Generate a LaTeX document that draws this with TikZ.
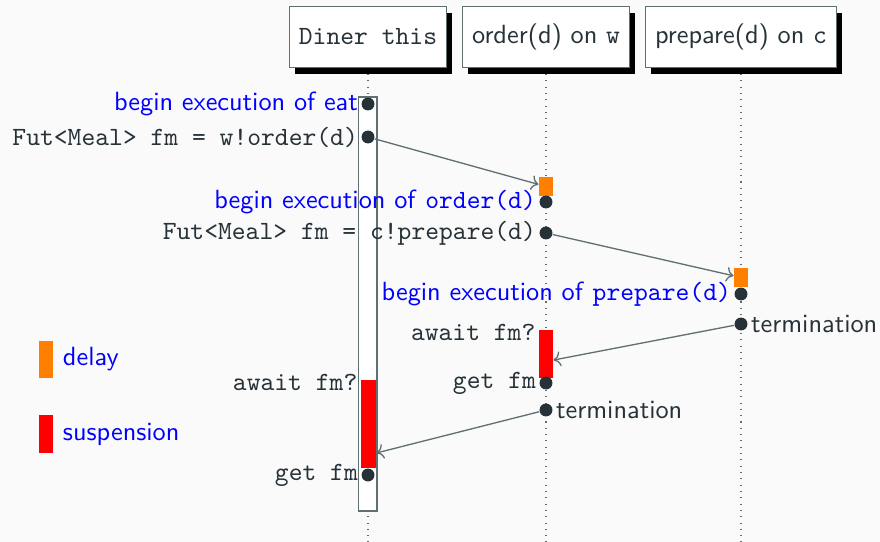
\documentclass[tikz,border=0pt]{standalone}
\usepackage{tikz}
\usetikzlibrary{arrows.meta, shapes, positioning, shadows}
\usepackage{xcolor}
\definecolor{darkslate}{RGB}{38,50,56}
\definecolor{linegray}{RGB}{96,112,112}
\definecolor{paper}{RGB}{250,250,250}
\definecolor{delayorange}{RGB}{255,128,0}
\tikzset{objectbox/.style={rectangle, draw=linegray, fill=white, minimum height=23pt, inner sep=3.6pt, text=darkslate, drop shadow={shadow xshift=2.2pt, shadow yshift=-2.4pt, fill=black, opacity=1}}}
\tikzset{eventdot/.style={circle, fill=darkslate, minimum size=4.9pt, inner sep=0pt}}
\tikzset{delaybox/.style={rectangle, fill=delayorange, minimum width=5.3pt, minimum height=7.2pt, inner sep=0pt},suspensionbox/.style={rectangle, fill=red, minimum width=5.3pt, inner sep=0pt}}
\tikzset{bluelabel/.style={text=blue, inner sep=1pt},codelabel/.style={text=darkslate, font=\ttfamily, inner sep=1pt},plainlabel/.style={text=darkslate, inner sep=1pt}}

\begin{document}
\begin{tikzpicture}[
        x=0.38pt, y=-0.38pt, font=\sffamily,
        lifeline/.style={draw=linegray, dotted},
        activation/.style={rectangle, draw=linegray, fill=white, minimum width=7.2pt, minimum height=157.3pt, inner sep=0pt},
        message/.style={draw=linegray, line width=0.5pt, ->},
    ]
        % Background
        \fill[paper] (0,0) rectangle (880,542);
        \useasboundingbox (0,0) rectangle (880,542);
        % Objects
        \node[objectbox] (diner) at (368,37) {\ttfamily Diner this};
        \node[objectbox] (order) at (546,37) {order(d) on \texttt{w}};
        \node[objectbox] (prepare) at (741,37) {prepare(d) on \texttt{c}};
        % Lifelines
        \coordinate (bottom) at (0,542);
        \foreach \obj in {diner, order, prepare} {
            \draw[lifeline] ([yshift=-2.4pt]\obj.south) -- (\obj.south |- bottom);
        }
        \node[activation] (dinerrun) at (367.5,304) {};
        % Delays and suspensions
        \node[delaybox] (delayO) at (546,186.5) {};
        \node[delaybox] (delayP) at (741,277.5) {};
        \node[suspensionbox, minimum height=18.2pt] (suspO) at (546,354) {};
        \node[suspensionbox, minimum width=5.7pt, minimum height=33.4pt] (suspD) at (368.5,424) {};
        % Events
        \node[eventdot, label={[bluelabel]left:begin execution of eat}] (eatBegin) at (368,104) {};
        \node[eventdot, label={[codelabel]left:{Fut<Meal> fm = w!order(d)}}] (callOrder) at (368,137) {};
        \node[eventdot, label={[bluelabel]left:{begin execution of \texttt{order(d)}}}] (orderBegin) at (546,202) {};
        \node[eventdot, label={[codelabel]left:{Fut<Meal> fm = c!prepare(d)}}] (callPrepare) at (546,233) {};
        \node[eventdot, label={[bluelabel]left:{begin execution of \texttt{prepare(d)}}}] (prepareBegin) at (741,294) {};
        \node[eventdot, label={[plainlabel]right:termination}] (prepareEnd) at (741,324) {};
        \node[eventdot, label={[codelabel]left:get fm}] (getO) at (546,383) {};
        \node[eventdot, label={[plainlabel]right:termination}] (orderEnd) at (546,410) {};
        \node[eventdot, label={[codelabel]left:get fm}] (getD) at (368,475) {};
        \node[codelabel, anchor=east] (awaitO) at ([yshift=-1.1pt]suspO.north west) {await fm?};
        \node[codelabel, anchor=east] (awaitD) at ([yshift=-1.1pt]suspD.north west) {await fm?};
        % Messages
        \draw[message] (callOrder) -- (delayO);
        \draw[message] (callPrepare) -- (delayP);
        \draw[message] (prepareEnd) -- ([yshift=-2.3pt]suspO.east);
        \draw[message] (orderEnd) -- ([yshift=-11pt]suspD.east);
        % Legend
        \node[delaybox, minimum height=14.1pt] (legendDelay) at (46,359.5) {};
        \node[bluelabel, right=2.4pt of legendDelay] (delayText) {delay};
        \node[suspensionbox, minimum height=14.4pt] (legendSusp) at (46,434) {};
        \node[bluelabel, right=2.4pt of legendSusp] (suspText) {suspension};
    \end{tikzpicture}
\end{document}
